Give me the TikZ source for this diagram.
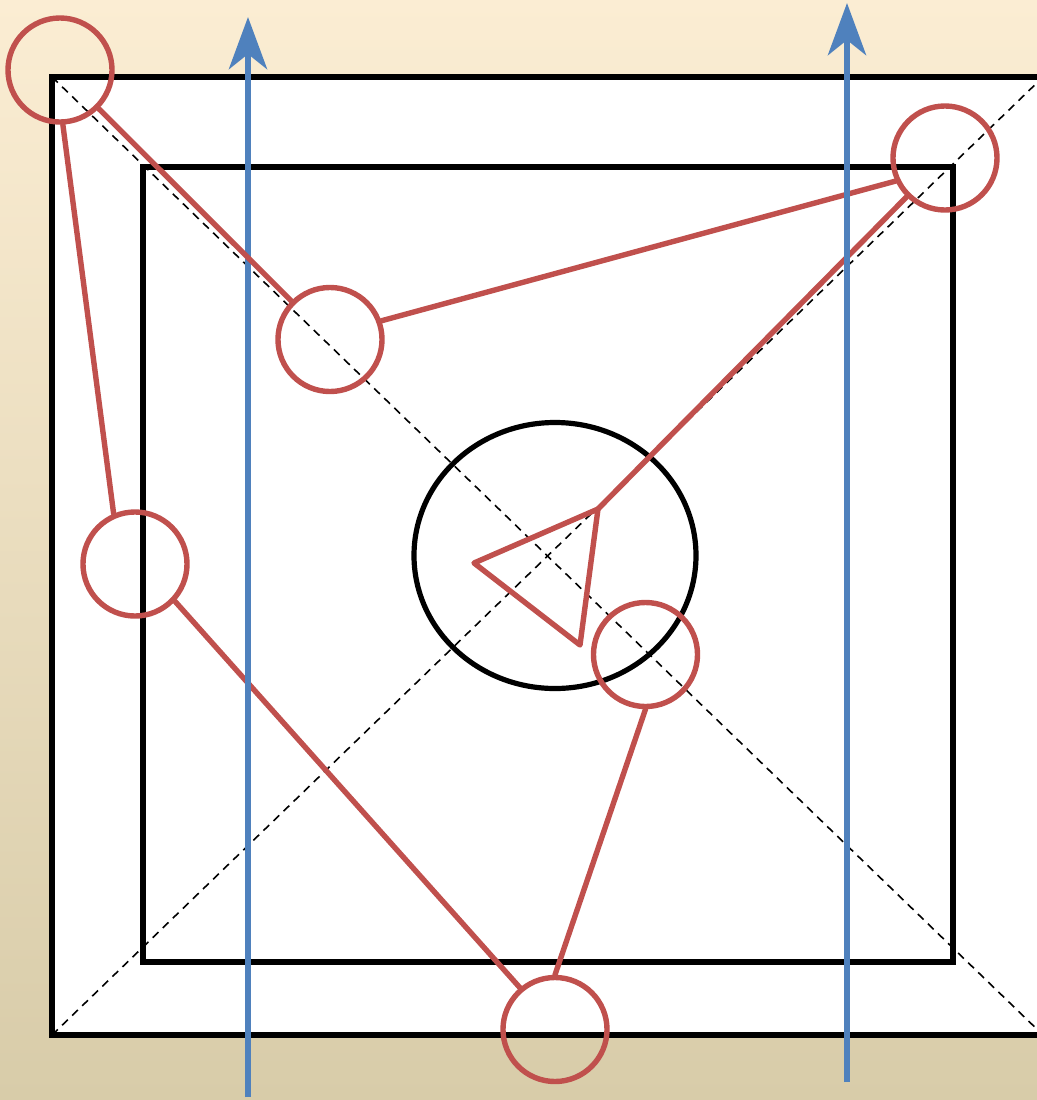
\documentclass[tikz,border=0pt]{standalone}
\usepackage{tikz}
\usetikzlibrary{arrows.meta}
\definecolor{ringred}{HTML}{C0504D}
\definecolor{flowblue}{HTML}{4F81BD}
\definecolor{bgtop}{RGB}{251,237,211}
\definecolor{bgbot}{RGB}{216,204,169}

\begin{document}
\begin{tikzpicture}[
x=0.025cm, y=-0.025cm,
ring/.style={circle, draw=ringred, line width=0.135cm, minimum size=2.6cm, inner sep=0pt},
link/.style={ringred, line width=0.135cm, line cap=round, line join=round},
frame/.style={draw=black, line width=0.13cm},
guide/.style={black, line width=0.04cm, dash pattern=on 0.2cm off 0.15cm},
flow/.style={-{Stealth[length=1.3cm, width=0.95cm, inset=0.375cm]}, flowblue, line width=0.17cm}
]
\useasboundingbox (0,0) rectangle (1037,1100);
\clip (0,0) rectangle (1037,1100);
\shade[top color=bgtop, bottom color=bgbot] (0,0) rectangle (1037,1100);

% frames and guides
\draw[frame, fill=white] (52,77) rectangle (1043,1035);
\draw[frame] (143,167) rectangle (953,962);
\draw[guide] (52,77) -- (1043,1035);
\draw[guide] (52,1035) -- (1043,77);
\draw[frame] (555,555.5) ellipse [x radius=141, y radius=133];

% rings
\node[ring] (c1) at (60,70) {};
\node[ring] (c2) at (330,339.5) {};
\node[ring] (c3) at (945,158) {};
\node[ring] (c4) at (135,564) {};
\node[ring] (c5) at (645.5,654.5) {};
\node[ring] (c6) at (555,1029.5) {};

% triangle
\coordinate (t1) at (598,509);
\coordinate (t2) at (474,563);
\coordinate (t3) at (580,645);
\draw[link] (t1) -- (t2) -- (t3) -- cycle;

\draw[link] (c1.-87) -- (c4.113);
\draw[link] (c2.20) -- (c3.205);
\draw[link] (c3) -- (t1);
\draw[link] (c4.-43) -- (c6.130);
\draw[link] (c5.south) -- (c6.north);

% flow arrows
\coordinate (f1s) at (248,1097);
\coordinate (f1e) at (248,17);
\coordinate (f2s) at (847,1082);
\coordinate (f2e) at (847,3);
\draw[flow] (f1s) -- (f1e);
\draw[flow] (f2s) -- (f2e);

\draw[link] (c1) -- (c2);
\end{tikzpicture}
\end{document}
